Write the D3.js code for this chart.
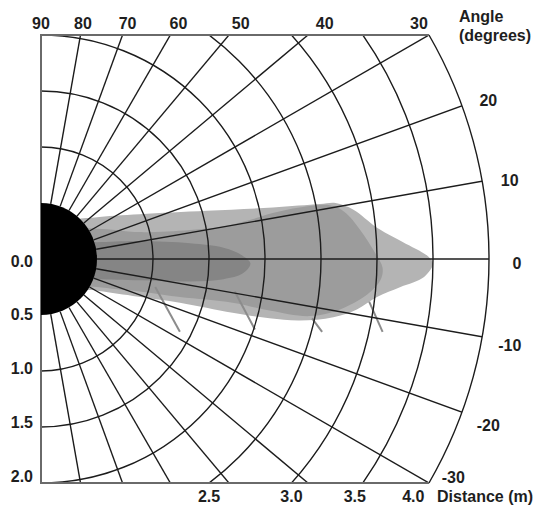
<!DOCTYPE html>
<html>
<head>
<meta charset="utf-8">
<script src="https://cdn.jsdelivr.net/npm/d3@7"></script>
<style>
body { margin: 0; background: #fff; }
text { font-family: 'Liberation Sans', Arial, sans-serif; font-weight: bold; font-size: 16px; fill: #1e1e1e; }
</style>
</head>
<body>
<div id="chart"></div>
<script>
(function() {

const width = 536,
      height = 511

// distances in metres, angles in degrees
const gridRadii = [1.0, 1.5, 2.0, 2.5, 3.0, 3.5]
const maxRange = 4.0
const rayAngles = [-80, -70, -60, -50, -40, -30, -20, -10, 0, 10, 20, 30, 40, 50, 60, 70, 80]
const topAngles = [90, 80, 70, 60, 50, 40, 30]
const rightAngles = [20, 10, 0, -10, -20, -30]
const sideLabels = ['0.0', '0.5', '1.0', '1.5', '2.0']
const bottomLabels = ['2.5', '3.0', '3.5', '4.0']

// detection zones, [forward m, lateral m]
const outerZone = [[0.30, 0.33], [0.48, 0.37], [0.88, 0.40], [1.48, 0.43], [2.07, 0.46], [2.49, 0.49],
  [2.63, 0.50], [2.79, 0.44], [3.00, 0.28], [3.29, 0.12], [3.46, 0.02], [3.50, -0.04], [3.42, -0.16],
  [3.21, -0.25], [3.00, -0.34], [2.82, -0.45], [2.61, -0.52], [2.31, -0.55], [2.04, -0.53], [1.71, -0.48],
  [1.24, -0.39], [0.82, -0.33], [0.48, -0.28], [0.30, -0.25]]
const middleZone = [[0.30, 0.25], [0.50, 0.27], [0.88, 0.24], [1.33, 0.26], [1.63, 0.29], [1.87, 0.35],
  [2.07, 0.41], [2.31, 0.46], [2.58, 0.48], [2.71, 0.42], [2.85, 0.26], [2.98, 0.06], [3.05, -0.08],
  [3.03, -0.19], [2.91, -0.32], [2.67, -0.45], [2.40, -0.51], [2.04, -0.46], [1.71, -0.39], [1.24, -0.34],
  [0.88, -0.29], [0.50, -0.25], [0.30, -0.22]]
const coreZone = [[0.30, 0.15], [0.50, 0.15], [0.88, 0.16], [1.33, 0.14], [1.63, 0.10], [1.80, 0.03],
  [1.87, -0.04], [1.80, -0.13], [1.63, -0.18], [1.33, -0.20], [0.88, -0.19], [0.50, -0.18], [0.30, -0.17]]
const shadowLines = [
  [[1.02, -0.25], [1.24, -0.65]],
  [[1.73, -0.29], [1.91, -0.63]],
  [[2.42, -0.53], [2.51, -0.65]],
  [[2.93, -0.38], [3.05, -0.65]]
]

const cx = 41, cy = 259
const R = 448

const r = d3.scaleLinear().domain([0, maxRange]).range([0, R])
const x = d3.scaleLinear().domain([0, maxRange]).range([cx, cx + R])
const y = d3.scaleLinear().domain([-2, 2]).range([cy + R / 2, cy - R / 2])

const rad = a => a * Math.PI / 180
const px = (d, a) => cx + r(d) * Math.cos(rad(a))
const py = (d, a) => cy - r(d) * Math.sin(rad(a))

const svg = d3.select('#chart')
  .append('svg')
  .attr('width', width)
  .attr('height', height)

// plotting region: rectangle plus the +/-30 degree sector
const top = y(2), bottom = y(-2)
const cornerX = px(maxRange, 30)
const region = d3.path()
region.moveTo(cx, top)
region.lineTo(cornerX, top)
region.arc(cx, cy, R, -Math.PI / 6, Math.PI / 6)
region.lineTo(cx, bottom)
region.closePath()

svg.append('clipPath')
  .attr('id', 'region')
  .append('path')
  .attr('d', region.toString())

const plot = svg.append('g').attr('clip-path', 'url(#region)')

const zone = d3.line()
  .x(d => x(d[0]))
  .y(d => y(d[1]))
  .curve(d3.curveCatmullRomClosed.alpha(0.5))

plot.append('path').attr('d', zone(outerZone)).attr('fill', '#b4b4b4')
plot.append('path').attr('d', zone(middleZone)).attr('fill', '#9c9c9c')
plot.append('path').attr('d', zone(coreZone)).attr('fill', '#858585')

plot.selectAll('.shadow')
  .data(shadowLines)
  .enter()
  .append('line')
  .attr('class', 'shadow')
  .attr('x1', d => x(d[0][0]))
  .attr('y1', d => y(d[0][1]))
  .attr('x2', d => x(d[1][0]))
  .attr('y2', d => y(d[1][1]))
  .attr('stroke', '#8c8c8c')
  .attr('stroke-width', 2)

plot.selectAll('.ring')
  .data(gridRadii)
  .enter()
  .append('path')
  .attr('class', 'ring')
  .attr('d', function(d) {
    const p = d3.path()
    p.arc(cx, cy, r(d), -Math.PI / 2, Math.PI / 2)
    return p.toString()
  })
  .attr('fill', 'none')
  .attr('stroke', '#1c1c1c')
  .attr('stroke-width', 1.4)

plot.selectAll('.ray')
  .data(rayAngles)
  .enter()
  .append('line')
  .attr('class', 'ray')
  .attr('x1', d => px(0.5, d))
  .attr('y1', d => py(0.5, d))
  .attr('x2', d => px(4.6, d))
  .attr('y2', d => py(4.6, d))
  .attr('stroke', '#1c1c1c')
  .attr('stroke-width', 1.4)

// outer 4 m arc
const outer = d3.path()
outer.arc(cx, cy, R, -Math.PI / 6, Math.PI / 6)
svg.append('path')
  .attr('d', outer.toString())
  .attr('fill', 'none')
  .attr('stroke', '#1c1c1c')
  .attr('stroke-width', 1.4)

// frame
svg.append('path')
  .attr('d', 'M' + cornerX + ',' + top + 'H' + cx + 'V' + bottom + 'H' + cornerX)
  .attr('fill', 'none')
  .attr('stroke', '#6a6a6a')
  .attr('stroke-width', 2)

// sensor
const sensor = d3.path()
sensor.moveTo(cx, cy - r(0.5))
sensor.arc(cx, cy, r(0.5), -Math.PI / 2, Math.PI / 2)
sensor.closePath()
svg.append('path').attr('d', sensor.toString()).attr('fill', '#000')

// angle labels along the top
svg.selectAll('.topLabel')
  .data(topAngles)
  .enter()
  .append('text')
  .attr('class', 'topLabel')
  .attr('text-anchor', 'middle')
  .attr('x', d => Math.min(cx + (cy - 21) / Math.tan(rad(d)), 419))
  .attr('y', 29)
  .text(d => d)

svg.selectAll('.rightLabel')
  .data(rightAngles)
  .enter()
  .append('text')
  .attr('class', 'rightLabel')
  .attr('text-anchor', 'middle')
  .attr('x', d => px(4.25, d))
  .attr('y', d => Math.min(py(4.25, d) + 4, 477))
  .attr('dy', '0.35em')
  .text(d => d)

svg.append('text').attr('x', 459).attr('y', 22).text('Angle')
svg.append('text').attr('x', 459).attr('y', 41).text('(degrees)')

// distance labels
svg.selectAll('.sideLabel')
  .data(sideLabels)
  .enter()
  .append('text')
  .attr('class', 'sideLabel')
  .attr('text-anchor', 'end')
  .attr('x', 33)
  .attr('y', d => cy + 2 + r(+d) * 0.96)
  .attr('dy', '0.35em')
  .text(d => d)

svg.selectAll('.bottomLabel')
  .data(bottomLabels)
  .enter()
  .append('text')
  .attr('class', 'bottomLabel')
  .attr('text-anchor', 'middle')
  .attr('x', function(d) {
    const rr = r(+d), dy = R / 2
    const hit = cx + Math.sqrt(rr * rr - dy * dy)
    return hit - Math.max(0, rr - r(3)) * 0.14
  })
  .attr('y', 502)
  .text(d => d)

svg.append('text').attr('x', 437).attr('y', 502).text('Distance (m)')

})()
</script>
</body>
</html>
